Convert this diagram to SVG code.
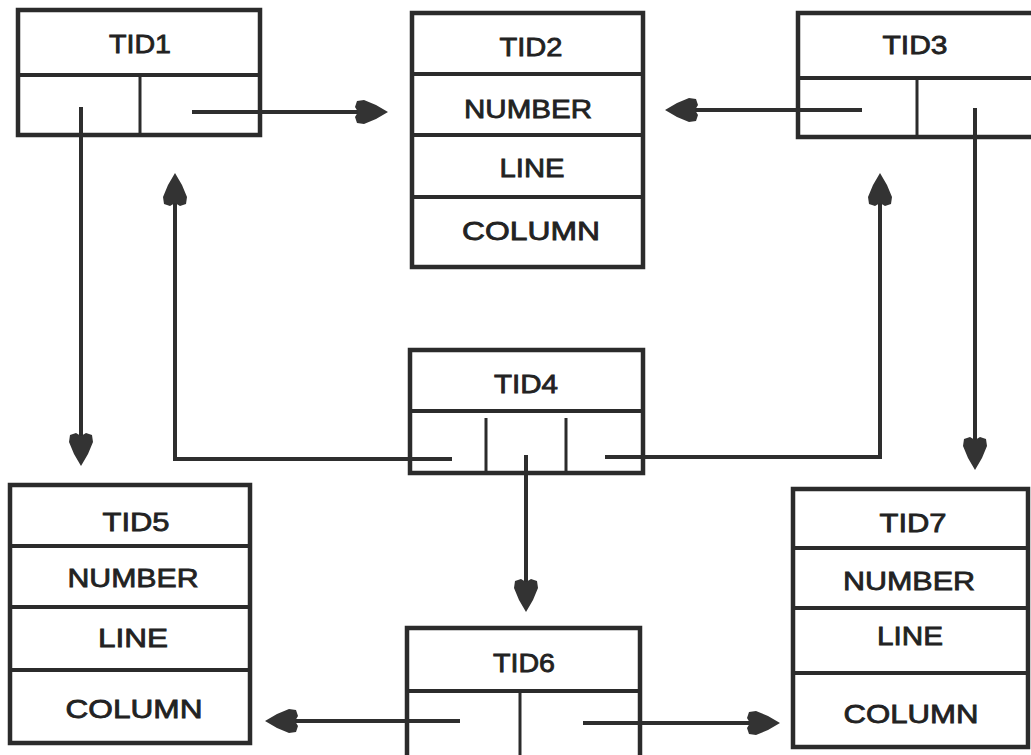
<svg xmlns="http://www.w3.org/2000/svg" width="1031" height="755" viewBox="0 0 1031 755">
<style>
.box{fill:#fff;stroke:#2b2b2b;stroke-width:4.5}
.div{stroke:#2b2b2b;stroke-width:4;fill:none}
.thin{stroke:#2b2b2b;stroke-width:3;fill:none}
.t{font-family:"Liberation Sans",Arial,sans-serif;font-size:26px;fill:#222;stroke:#222;stroke-width:0.8;text-anchor:middle}
.c{stroke:#2e2e2e;stroke-width:4;fill:none;marker-end:url(#ah)}
</style>
<defs>
<marker id="ah" viewBox="-36 -14 38 28" markerWidth="38" markerHeight="28" refX="-25" refY="0" orient="auto" markerUnits="userSpaceOnUse">
<path d="M0,0 L-12,-7 L-24,-12 L-31,-11 L-33,-5 L-30,0 L-33,5 L-31,11 L-24,12 L-12,7 Z" fill="#333"/>
</marker>
</defs>
<rect width="1031" height="755" fill="#fff"/>

<g id="tid1">
<rect class="box" x="18" y="10" width="242" height="125"/>
<line class="div" x1="18" y1="75" x2="260" y2="75"/>
<line class="thin" x1="140" y1="75" x2="140" y2="135"/>
<text class="t" x="140" y="53" textLength="62" lengthAdjust="spacingAndGlyphs">TID1</text>
</g>

<g id="tid2">
<rect class="box" x="412" y="13" width="231" height="254"/>
<line class="div" x1="412" y1="74" x2="643" y2="74"/>
<line class="div" x1="412" y1="135" x2="643" y2="135"/>
<line class="div" x1="412" y1="197" x2="643" y2="197"/>
<text class="t" x="531" y="56" textLength="63" lengthAdjust="spacingAndGlyphs">TID2</text>
<text class="t" x="528" y="118" textLength="128" lengthAdjust="spacingAndGlyphs">NUMBER</text>
<text class="t" x="532" y="177" textLength="65" lengthAdjust="spacingAndGlyphs">LINE</text>
<text class="t" x="531" y="240" textLength="138" lengthAdjust="spacingAndGlyphs">COLUMN</text>
</g>

<g id="tid3">
<rect class="box" x="798" y="13" width="240" height="124"/>
<line class="div" x1="798" y1="78" x2="1038" y2="78"/>
<line class="thin" x1="917" y1="78" x2="917" y2="137"/>
<text class="t" x="915" y="54" textLength="65" lengthAdjust="spacingAndGlyphs">TID3</text>
</g>

<g id="tid4">
<rect class="box" x="410" y="350" width="233" height="123"/>
<line class="div" x1="410" y1="411" x2="643" y2="411"/>
<line class="thin" x1="486" y1="418" x2="486" y2="473"/>
<line class="thin" x1="566" y1="418" x2="566" y2="473"/>
<text class="t" x="526" y="393" textLength="64" lengthAdjust="spacingAndGlyphs">TID4</text>
</g>

<g id="tid5">
<rect class="box" x="10" y="485" width="240" height="258"/>
<line class="div" x1="10" y1="546" x2="250" y2="546"/>
<line class="div" x1="10" y1="607" x2="250" y2="607"/>
<line class="div" x1="10" y1="670" x2="250" y2="670"/>
<text class="t" x="136" y="531" textLength="67" lengthAdjust="spacingAndGlyphs">TID5</text>
<text class="t" x="133" y="587" textLength="131" lengthAdjust="spacingAndGlyphs">NUMBER</text>
<text class="t" x="133" y="647" textLength="70" lengthAdjust="spacingAndGlyphs">LINE</text>
<text class="t" x="134" y="718" textLength="137" lengthAdjust="spacingAndGlyphs">COLUMN</text>
</g>

<g id="tid6">
<rect class="box" x="407" y="628" width="233" height="135"/>
<line class="div" x1="407" y1="691" x2="640" y2="691"/>
<line class="thin" x1="520" y1="691" x2="520" y2="760"/>
<text class="t" x="524" y="672" textLength="62" lengthAdjust="spacingAndGlyphs">TID6</text>
</g>

<g id="tid7">
<rect class="box" x="793" y="489" width="235" height="258"/>
<line class="div" x1="793" y1="548" x2="1028" y2="548"/>
<line class="div" x1="793" y1="608" x2="1028" y2="608"/>
<line class="div" x1="793" y1="673" x2="1028" y2="673"/>
<text class="t" x="913" y="532" textLength="67" lengthAdjust="spacingAndGlyphs">TID7</text>
<text class="t" x="909" y="590" textLength="132" lengthAdjust="spacingAndGlyphs">NUMBER</text>
<text class="t" x="910" y="645" textLength="66" lengthAdjust="spacingAndGlyphs">LINE</text>
<text class="t" x="911" y="723" textLength="135" lengthAdjust="spacingAndGlyphs">COLUMN</text>
</g>

<g id="connectors">
<path class="c" d="M192,112 H363"/>
<path class="c" d="M862,110 H690"/>
<path class="c" d="M81,107 V441"/>
<path class="c" d="M975,108 V445"/>
<path class="c" d="M452,459 H175 V198"/>
<path class="c" d="M605,457 H880 V198"/>
<path class="c" d="M526,455 V587"/>
<path class="c" d="M460,721 H290"/>
<path class="c" d="M583,723 H755"/>
</g>
</svg>
